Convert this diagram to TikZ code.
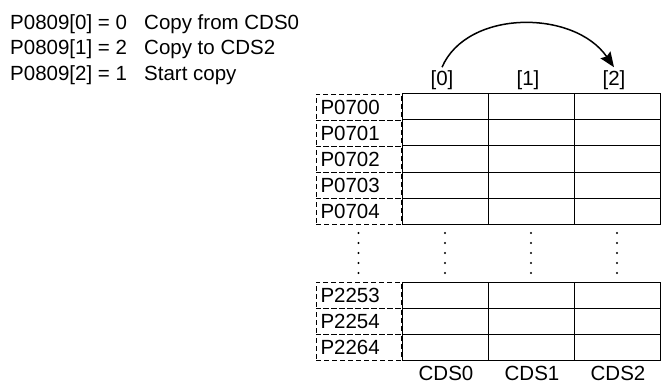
\documentclass[tikz,border=0pt]{standalone}
\usepackage{fontspec}
\setmainfont{Liberation Sans}
\usetikzlibrary{arrows.meta}

\begin{document}
\begin{tikzpicture}[x=1pt, y=-1pt,
    txt/.style={font=\fontsize{20.5}{24}\selectfont, inner sep=0pt},
    cell/.style={draw, line width=1pt, rectangle,
                 minimum width=86pt, minimum height=26pt, inner sep=0pt},
    parbox/.style={draw, line width=0.9pt, dash pattern=on 5pt off 3pt,
                   rectangle, minimum height=26pt, text width=76pt,
                   inner xsep=4.5pt, inner ysep=0pt, align=left,
                   font=\fontsize{20.5}{24}\selectfont},
    idx/.style={txt, inner sep=3pt},
    copyarc/.style={line width=1.5pt,
                    -{Stealth[length=15pt, width=12pt, inset=2pt]}}
]
\useasboundingbox (0,0) rectangle (661,385);

% Parameter settings
\node[txt, anchor=base west] (set0) at (10,29.3) {P0809[0] = 0};
\node[txt, anchor=base west] (set1) at (10,55)   {P0809[1] = 2};
\node[txt, anchor=base west] (set2) at (10,80.5) {P0809[2] = 1};
\node[txt, anchor=base west] (txt0) at (144,29.3) {Copy from CDS0};
\node[txt, anchor=base west] (txt1) at (144,55)   {Copy to CDS2};
\node[txt, anchor=base west] (txt2) at (144,80.5) {Start copy};

% Upper rows
\foreach \p [count=\i from 0] in {P0700,P0701,P0702,P0703,P0704}{
  \node[parbox] (p\i) at (358.5,107+26*\i) {\p};
  \foreach \c in {0,1,2}
    \node[cell] (c\i\c) at (445+86*\c,107+26*\i) {};
}

% Lower rows
\foreach \p [count=\i from 0] in {P2253,P2254,P2264}{
  \node[parbox] (q\i) at (358.5,295+26*\i) {\p};
  \foreach \c in {0,1,2}
    \node[cell] (d\i\c) at (445+86*\c,295+26*\i) {};
}

% Dots
\foreach \x in {358.5,445,531,617}
  \foreach \y in {233,243,253,263,273}
    \fill (\x,\y) circle (1.1pt);

% Indices and data sets
\foreach \c in {0,1,2}{
  \node[idx] (i\c) at (442+86*\c,80) {[\c]};
  \node[txt] (cds\c) at (446+86*\c,373) {CDS\c};
}

% Copy arrow
\draw[copyarc] (i0.north) .. controls +(25,-58) and +(-40,-58) .. (i2.north);

\end{tikzpicture}
\end{document}
